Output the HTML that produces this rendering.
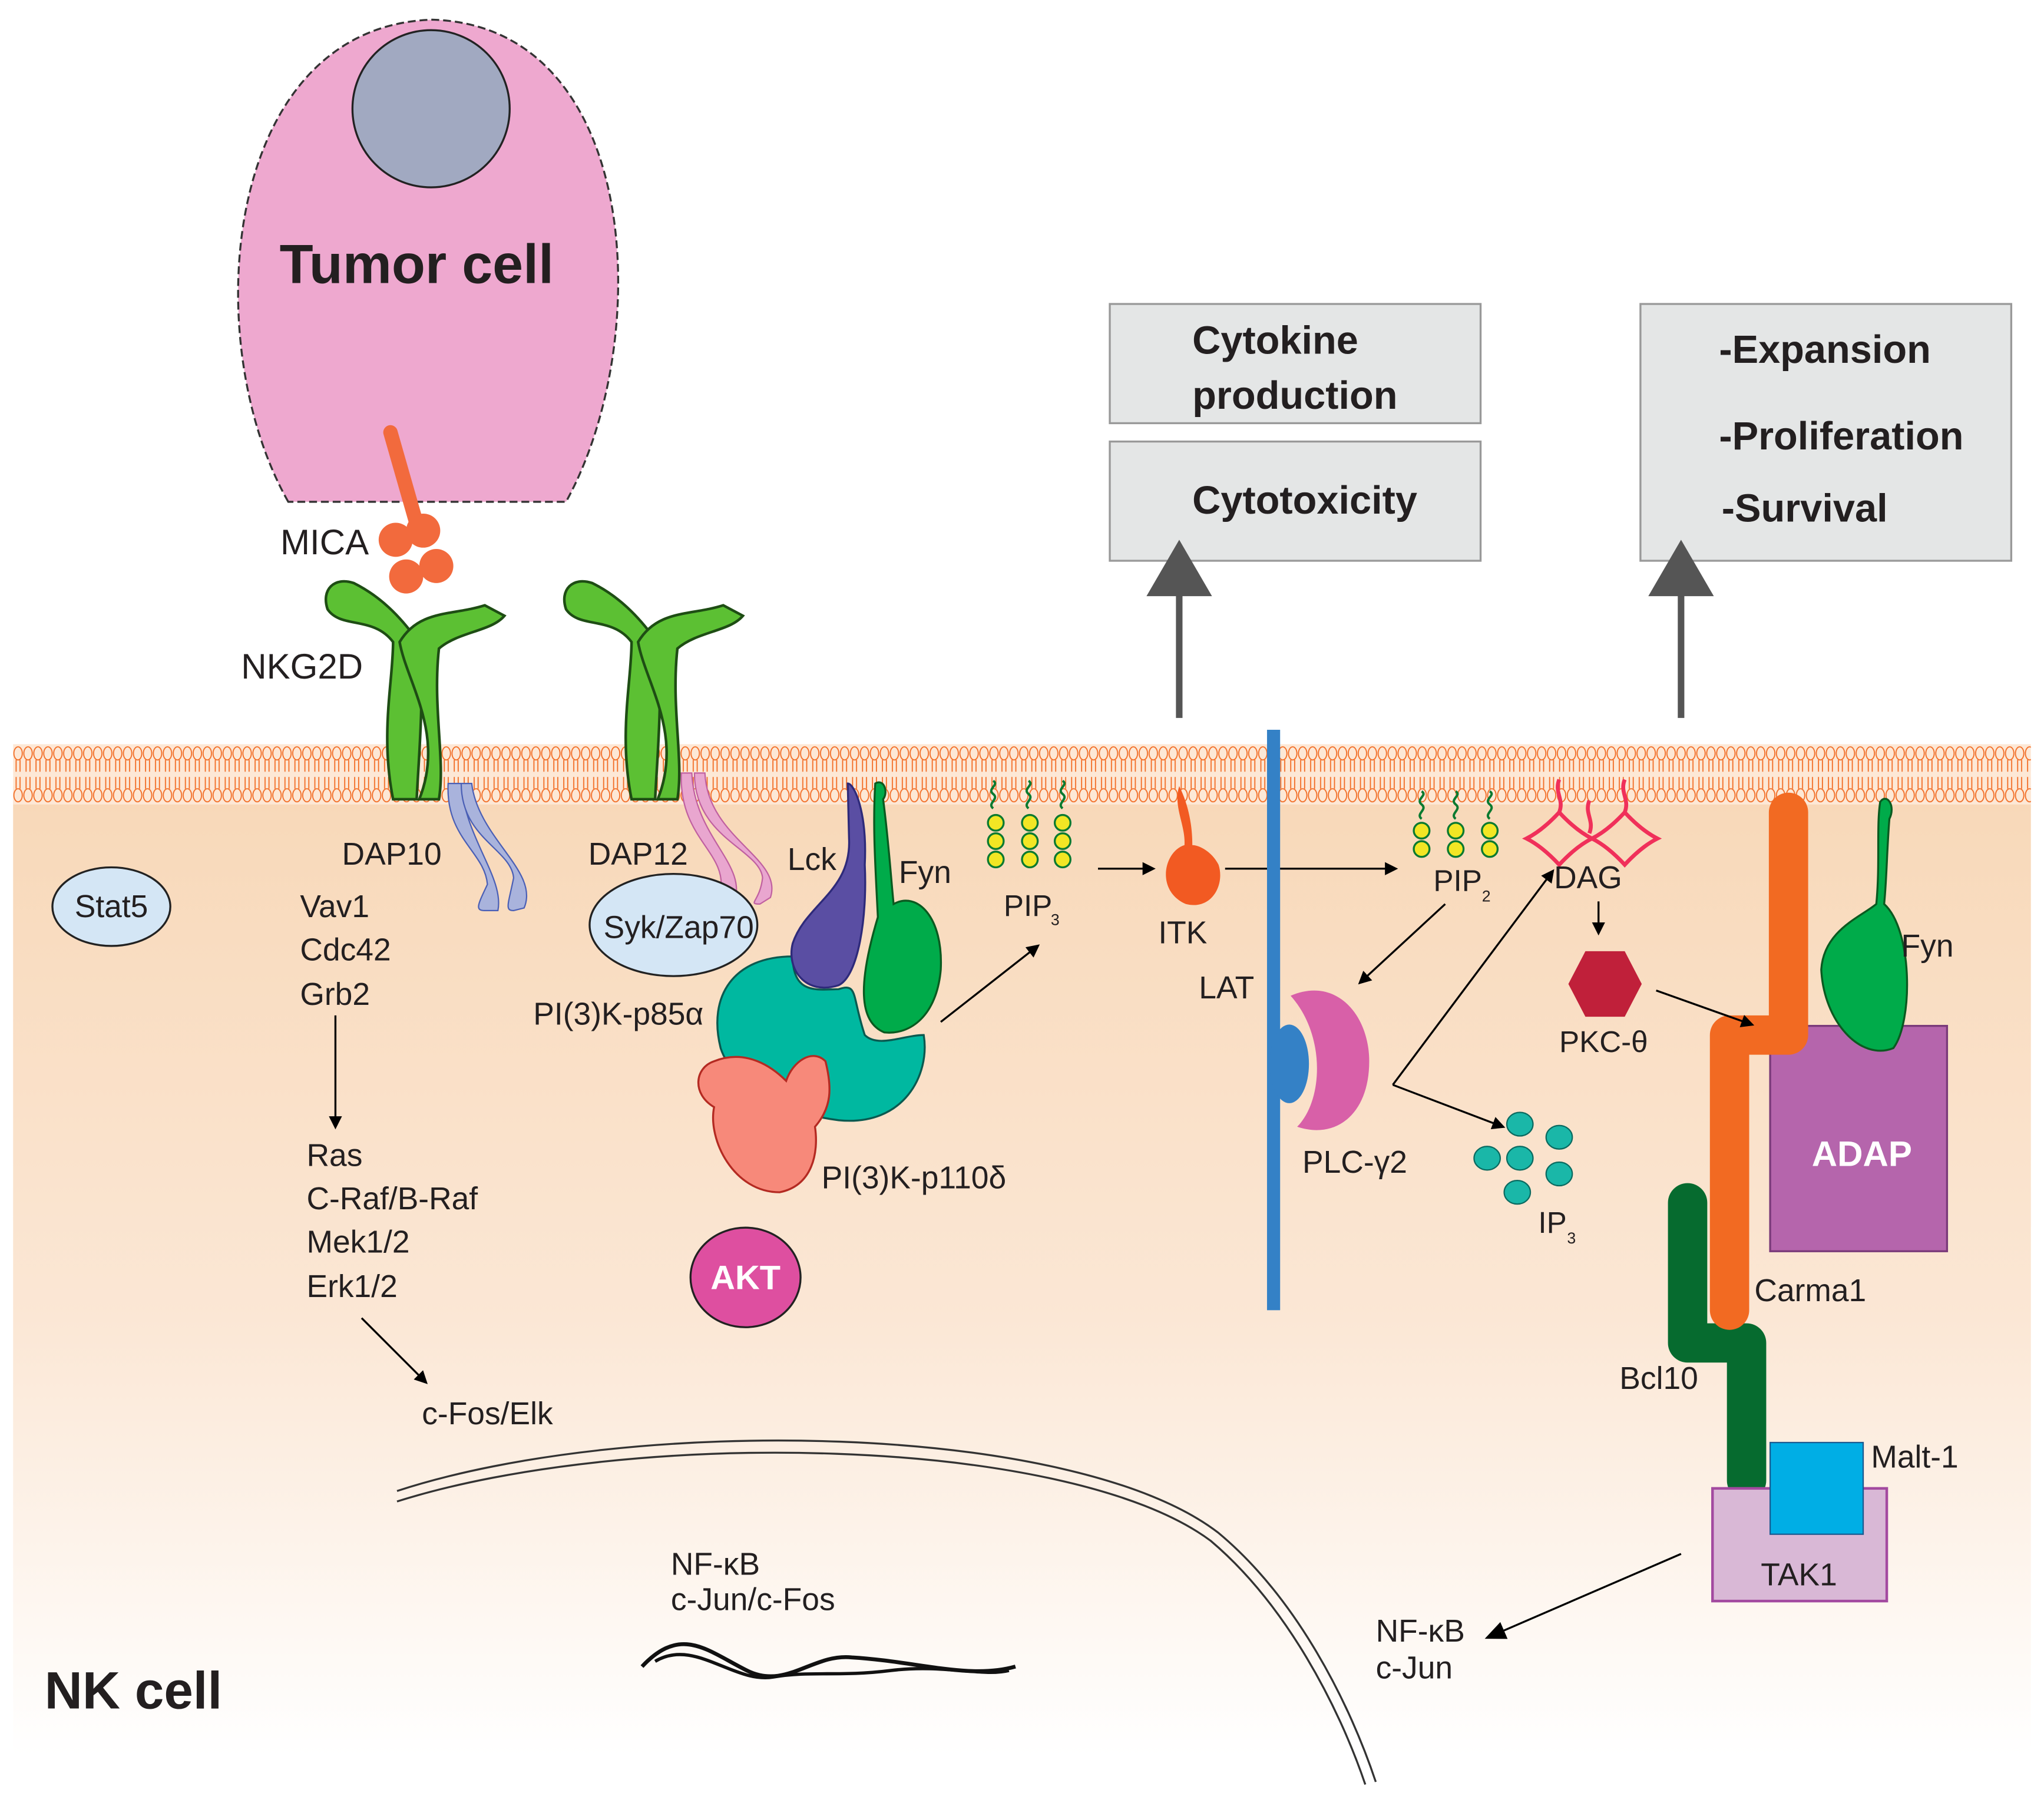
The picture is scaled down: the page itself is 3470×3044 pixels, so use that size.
<!DOCTYPE html>
<html><head><meta charset="utf-8"><style>
html,body{margin:0;padding:0;background:#fff}
svg{display:block}
text{font-family:"Liberation Sans",sans-serif;fill:#231f20}
</style></head><body>
<svg width="3470" height="3044" viewBox="0 0 1560 1368.5" preserveAspectRatio="none" xmlns="http://www.w3.org/2000/svg">
<defs>
<linearGradient id="cyto" x1="0" y1="0" x2="0" y2="1">
<stop offset="0" stop-color="#f8d8b8"/><stop offset="0.55" stop-color="#fbe7d5"/><stop offset="1" stop-color="#ffffff"/>
</linearGradient>
<pattern id="lipid" x="10" y="568" width="7.6" height="46" patternUnits="userSpaceOnUse">
<rect width="7.6" height="46" fill="#fde8d6"/>
<g stroke="#f26a21" stroke-width="0.8" fill="none">
<line x1="2.3" y1="12" x2="2.3" y2="21"/><line x1="5.3" y1="12" x2="5.3" y2="21"/>
<line x1="2.3" y1="25" x2="2.3" y2="34"/><line x1="5.3" y1="25" x2="5.3" y2="34"/>
<ellipse cx="3.8" cy="7" rx="3.2" ry="5" fill="#fde8d6"/>
<ellipse cx="3.8" cy="39" rx="3.2" ry="5" fill="#fde8d6"/>
</g>
</pattern>
<marker id="ah" markerWidth="10" markerHeight="10" refX="8" refY="5" orient="auto" markerUnits="userSpaceOnUse">
<path d="M0,0 L10,5 L0,10 z" fill="#000"/></marker>
<marker id="ah2" markerWidth="16" markerHeight="14" refX="14" refY="7" orient="auto" markerUnits="userSpaceOnUse">
<path d="M0,0 L16,7 L0,14 z" fill="#000"/></marker>
</defs>
<rect x="10" y="600" width="1540" height="740" fill="url(#cyto)"/>
<rect x="10" y="568" width="1540" height="46" fill="url(#lipid)"/>
<!-- tumor cell -->
<path d="M220,383 C150,260 170,20 330,15 C490,20 500,260 432,383 Z" fill="#eea8cf" stroke="#333" stroke-width="1.5" stroke-dasharray="6 3"/>
<circle cx="329" cy="83" r="60" fill="#a1a9c1" stroke="#222" stroke-width="1.5"/>
<text x="318" y="216" font-size="42" font-weight="bold" text-anchor="middle">Tumor cell</text>
<path d="M298,330 L318,400" stroke="#f26a3d" stroke-width="11" stroke-linecap="round"/>
<g fill="#f26a3d"><circle cx="302" cy="412" r="13"/><circle cx="323" cy="405" r="13"/><circle cx="333" cy="432" r="13"/><circle cx="310" cy="440" r="13"/></g>
<text x="214" y="423" font-size="27">MICA</text>
<g fill="#5cc033" stroke="#1e4d14" stroke-width="2">
<path d="M300,610 C290,560 300,520 300,490 C285,470 260,480 250,465 C245,450 255,440 270,445 C290,455 305,470 318,488 C325,520 320,570 318,610 Z"/>
<path d="M320,610 C340,560 310,520 305,490 C320,465 345,470 370,462 L385,470 C375,482 350,482 335,495 C330,540 340,580 335,610 Z"/>
<path d="M482,610 C472,560 482,520 482,490 C467,470 442,480 432,465 C427,450 437,440 452,445 C472,455 487,470 500,488 C507,520 502,570 500,610 Z"/>
<path d="M502,610 C522,560 492,520 487,490 C502,465 527,470 552,462 L567,470 C557,482 532,482 517,495 C512,540 522,580 517,610 Z"/>
</g>
<text x="184" y="518" font-size="27">NKG2D</text>
<g fill="#a9b3dc" stroke="#4a5fb5" stroke-width="1">
<path d="M342,598 C340,640 370,650 372,675 C365,690 362,695 370,695 L380,695 C385,670 355,640 352,598 Z"/>
<path d="M352,598 C352,640 390,648 392,670 C388,690 385,695 392,695 L400,693 C412,665 365,640 360,598 Z"/>
</g>
<g fill="#e9a6cf" stroke="#c060a0" stroke-width="1">
<path d="M520,590 C518,640 555,650 550,680 C545,690 548,690 560,690 C572,660 530,640 528,590 Z"/>
<path d="M530,590 C530,640 580,648 582,670 C580,688 570,690 580,690 L588,685 C598,655 540,640 538,590 Z"/>
</g>
<text x="261" y="660" font-size="24">DAP10</text>
<text x="449" y="660" font-size="24">DAP12</text>
<ellipse cx="85" cy="692" rx="45" ry="30" fill="#d4e6f5" stroke="#222" stroke-width="1.5"/>
<text x="85" y="700" font-size="24" text-anchor="middle">Stat5</text>
<ellipse cx="514" cy="706" rx="64" ry="39" fill="#d4e6f5" stroke="#222" stroke-width="1.5"/>
<text x="518" y="716" font-size="24" text-anchor="middle">Syk/Zap70</text>
<g font-size="24">
<text x="229" y="700">Vav1</text><text x="229" y="733">Cdc42</text><text x="229" y="767">Grb2</text>
<text x="234" y="890">Ras</text><text x="234" y="923">C-Raf/B-Raf</text><text x="234" y="956">Mek1/2</text><text x="234" y="990">Erk1/2</text>
<text x="322" y="1087">c-Fos/Elk</text>
</g>
<line x1="256" y1="775" x2="256" y2="860" stroke="#000" stroke-width="1.5" marker-end="url(#ah)"/>
<line x1="276" y1="1006" x2="325" y2="1055" stroke="#000" stroke-width="1.5" marker-end="url(#ah)"/>
<path d="M605,730 C560,730 540,760 550,800 C560,830 600,850 640,855 C690,860 710,820 705,790 C690,790 670,800 660,790 C650,760 655,750 640,755 C625,755 605,760 605,730 Z" fill="#00b8a0" stroke="#0a5a50" stroke-width="1.5"/>
<path d="M545,810 C530,815 528,835 545,845 C540,870 560,910 595,910 C620,905 625,880 622,860 C635,845 635,830 630,810 C620,800 605,810 600,825 C590,815 570,800 545,810 Z" fill="#f7897a" stroke="#b42a22" stroke-width="1.5"/>
<path d="M647,598 C652,598 662,620 660,660 C662,700 655,745 640,752 C615,760 600,740 605,720 C615,690 650,680 648,640 Z" fill="#5a4ea3" stroke="#2e2a7a" stroke-width="1.5"/>
<text x="601" y="664" font-size="24">Lck</text>
<path d="M668,598 C675,594 678,605 674,610 C678,640 680,670 682,690 C700,680 720,700 718,740 C715,775 695,790 675,788 C655,780 655,750 670,700 C668,660 666,630 668,598 Z" fill="#00ab4a" stroke="#0a5a20" stroke-width="1.5"/>
<text x="686" y="674" font-size="24">Fyn</text>
<text x="407" y="782" font-size="24">PI(3)K-p85α</text>
<text x="627" y="907" font-size="24">PI(3)K-p110δ</text>
<ellipse cx="569" cy="975" rx="42" ry="38" fill="#de4fa0" stroke="#222" stroke-width="1.5"/>
<text x="569" y="984" font-size="26" font-weight="bold" text-anchor="middle" style="fill:#fff">AKT</text>
<g stroke="#0a7a30" stroke-width="1.8" fill="none">
<path d="M758,617 c-5,-4 5,-7 0,-11 c-5,-4 5,-7 0,-10 M785,617 c-5,-4 5,-7 0,-11 c-5,-4 5,-7 0,-10 M811,617 c-5,-4 5,-7 0,-11 c-5,-4 5,-7 0,-10"/>
</g>
<g fill="#f2e624" stroke="#0a7a30" stroke-width="1.5">
<circle cx="760" cy="628" r="6"/><circle cx="760" cy="642" r="6"/><circle cx="760" cy="656" r="6"/>
<circle cx="786" cy="628" r="6"/><circle cx="786" cy="642" r="6"/><circle cx="786" cy="656" r="6"/>
<circle cx="811" cy="628" r="6"/><circle cx="811" cy="642" r="6"/><circle cx="811" cy="656" r="6"/>
</g>
<text x="766" y="699" font-size="23">PIP</text><text x="802" y="706" font-size="12">3</text>
<line x1="718" y1="780" x2="792" y2="722" stroke="#000" stroke-width="1.5" marker-end="url(#ah)"/>
<line x1="838" y1="663" x2="880" y2="663" stroke="#000" stroke-width="1.5" marker-end="url(#ah)"/>
<path d="M900,600 C895,615 905,630 904,645 C888,650 882,680 905,690 C925,695 935,675 930,660 C925,650 915,645 910,645 C910,625 905,610 900,600 Z" fill="#f25a22"/>
<text x="884" y="720" font-size="24">ITK</text>
<line x1="935" y1="663" x2="1065" y2="663" stroke="#000" stroke-width="1.5" marker-end="url(#ah)"/>
<rect x="967" y="557" width="10" height="443" fill="#3481c6"/>
<text x="915" y="762" font-size="24">LAT</text>
<path d="M985,760 C1020,745 1045,775 1045,810 C1045,850 1020,870 990,860 C1010,840 1012,790 985,760 Z" fill="#d860a8"/>
<ellipse cx="984" cy="812" rx="15" ry="30" fill="#3481c6"/>
<text x="994" y="895" font-size="24">PLC-γ2</text>
<g stroke="#0a7a30" stroke-width="1.8" fill="none">
<path d="M1085,625 c-5,-4 5,-7 0,-11 c-5,-4 5,-7 0,-10 M1111,625 c-5,-4 5,-7 0,-11 c-5,-4 5,-7 0,-10 M1137,625 c-5,-4 5,-7 0,-11 c-5,-4 5,-7 0,-10"/>
</g>
<g fill="#f2e624" stroke="#0a7a30" stroke-width="1.5">
<circle cx="1085" cy="634" r="6"/><circle cx="1085" cy="648" r="6"/>
<circle cx="1111" cy="634" r="6"/><circle cx="1111" cy="648" r="6"/>
<circle cx="1137" cy="634" r="6"/><circle cx="1137" cy="648" r="6"/>
</g>
<text x="1094" y="680" font-size="23">PIP</text><text x="1131" y="688" font-size="12">2</text>
<line x1="1103" y1="690" x2="1038" y2="750" stroke="#000" stroke-width="1.5" marker-end="url(#ah)"/>
<g fill="none" stroke="#f0305a" stroke-width="3">
<path d="M1165,640 q12,-6 25,-20 q13,14 25,20 q-12,6 -25,20 q-13,-14 -25,-20 z"/>
<path d="M1215,640 q12,-6 25,-20 q13,14 25,20 q-12,6 -25,20 q-13,-14 -25,-20 z"/>
<path d="M1190,620 c4,-10 -4,-15 0,-25 M1240,620 c4,-10 -4,-15 0,-25 M1213,636 c4,-10 -4,-15 0,-25"/>
</g>
<text x="1186" y="678" font-size="24">DAG</text>
<line x1="1220" y1="688" x2="1220" y2="712" stroke="#000" stroke-width="1.5" marker-end="url(#ah)"/>
<polygon points="1210,726 1240,726 1253,751 1240,776 1210,776 1197,751" fill="#c0203a"/>
<text x="1190" y="803" font-size="23">PKC-θ</text>
<line x1="1063" y1="828" x2="1185" y2="665" stroke="#000" stroke-width="1.5" marker-end="url(#ah)"/>
<line x1="1063" y1="828" x2="1147" y2="860" stroke="#000" stroke-width="1.5" marker-end="url(#ah)"/>
<g fill="#1ab7a8" stroke="#0a6a60" stroke-width="1">
<ellipse cx="1160" cy="858" rx="10" ry="9"/><ellipse cx="1190" cy="868" rx="10" ry="9"/>
<ellipse cx="1135" cy="884" rx="10" ry="9"/><ellipse cx="1160" cy="884" rx="10" ry="9"/><ellipse cx="1190" cy="896" rx="10" ry="9"/>
<ellipse cx="1158" cy="910" rx="10" ry="9"/>
</g>
<text x="1174" y="941" font-size="23">IP</text><text x="1196" y="949" font-size="12">3</text>
<rect x="1351" y="783" width="135" height="172" fill="#b565ac" stroke="#7a3a7a" stroke-width="1.5"/>
<text x="1421" y="890" font-size="27" font-weight="bold" text-anchor="middle" style="fill:#fff">ADAP</text>
<path d="M1435,612 C1440,605 1447,615 1442,625 C1440,650 1440,670 1438,690 C1460,710 1460,780 1445,800 C1420,810 1392,780 1390,740 C1392,710 1420,700 1432,690 C1435,660 1432,630 1435,612 Z" fill="#00ab4a" stroke="#0a5a20" stroke-width="1.5"/>
<text x="1451" y="730" font-size="24">Fyn</text>
<path d="M1288,918 V1025 H1333 V1130" fill="none" stroke="#066b2f" stroke-width="30" stroke-linejoin="round" stroke-linecap="round"/>
<path d="M1365,620 V790 H1320 V1000" fill="none" stroke="#f26a22" stroke-width="30" stroke-linejoin="round" stroke-linecap="round"/>
<line x1="1264" y1="756" x2="1337" y2="782" stroke="#000" stroke-width="1.5" marker-end="url(#ah)"/>
<text x="1339" y="993" font-size="24">Carma1</text>
<text x="1236" y="1060" font-size="24">Bcl10</text>
<rect x="1307" y="1136" width="133" height="86" fill="#d9b8d6" stroke="#a34aa0" stroke-width="2"/>
<rect x="1351" y="1101" width="71" height="70" fill="#00aee5" stroke="#1a5a90" stroke-width="1"/>
<text x="1373" y="1210" font-size="24" text-anchor="middle">TAK1</text>
<text x="1428" y="1120" font-size="24">Malt-1</text>
<line x1="1283" y1="1186" x2="1135" y2="1250" stroke="#000" stroke-width="1.5" marker-end="url(#ah2)"/>
<text x="1050" y="1253" font-size="24">NF-κB</text><text x="1050" y="1281" font-size="24">c-Jun</text>
<path d="M303,1138 C480,1080 820,1085 930,1170 C990,1220 1030,1300 1050,1360" fill="none" stroke="#333" stroke-width="1.5"/>
<path d="M303,1146 C480,1090 815,1095 924,1176 C982,1225 1022,1303 1042,1362" fill="none" stroke="#333" stroke-width="1.5"/>
<text x="512" y="1202" font-size="24">NF-κB</text><text x="512" y="1229" font-size="24">c-Jun/c-Fos</text>
<path d="M490,1272 C520,1240 540,1260 570,1275 C600,1290 620,1262 650,1265 C700,1268 740,1282 775,1272" fill="none" stroke="#111" stroke-width="3"/>
<path d="M500,1268 C530,1250 560,1285 590,1280 C620,1275 640,1280 680,1275 C720,1270 750,1280 770,1275" fill="none" stroke="#111" stroke-width="2.5"/>
<text x="34" y="1304" font-size="40" font-weight="bold">NK cell</text>
<rect x="847" y="232" width="283" height="91" fill="#e4e6e6" stroke="#999" stroke-width="1.5"/>
<rect x="847" y="337" width="283" height="91" fill="#e4e6e6" stroke="#999" stroke-width="1.5"/>
<rect x="1252" y="232" width="283" height="196" fill="#e4e6e6" stroke="#999" stroke-width="1.5"/>
<g font-size="30" font-weight="bold">
<text x="910" y="270">Cytokine</text><text x="910" y="312">production</text>
<text x="910" y="392">Cytotoxicity</text>
<text x="1312" y="277">-Expansion</text><text x="1312" y="343">-Proliferation</text><text x="1314" y="398">-Survival</text>
</g>
<line x1="900" y1="548" x2="900" y2="450" stroke="#555" stroke-width="5"/>
<polygon points="875,455 925,455 900,412" fill="#555"/>
<line x1="1283" y1="548" x2="1283" y2="450" stroke="#555" stroke-width="5"/>
<polygon points="1258,455 1308,455 1283,412" fill="#555"/>
</svg>
</body></html>
